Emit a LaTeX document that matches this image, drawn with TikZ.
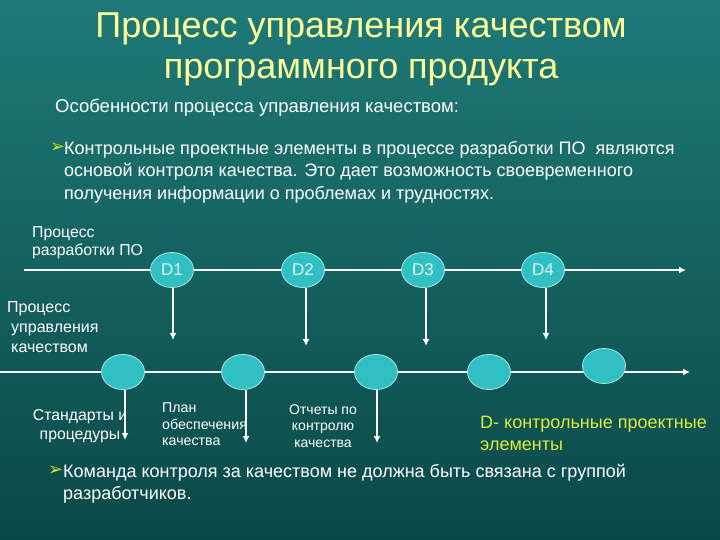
\documentclass[tikz,border=0pt]{standalone}
\usepackage{fontspec}
\setmainfont{Liberation Sans}
\newfontfamily\symfont{DejaVu Sans}
\usetikzlibrary{shapes.geometric,arrows.meta,backgrounds}
\definecolor{bgtop}{RGB}{30,122,119}
\definecolor{bgbot}{RGB}{10,72,72}
\definecolor{titleyel}{RGB}{255,255,153}
\definecolor{dfill}{RGB}{48,192,196}
\definecolor{dyel}{RGB}{225,235,60}
\definecolor{bulletgr}{RGB}{200,225,50}
\tikzset{
	elem/.style={ellipse,draw=white!60!dfill,line width=0.8pt,fill=dfill,minimum width=43pt,minimum height=35pt,inner sep=0pt,text=white!85!dfill,font=\fontsize{17}{17}\selectfont},
	flow/.style={white,line width=2pt},
	flowarr/.style={flow,-{Latex[length=7pt,width=7pt]}},
	lbl/.style={text=white,anchor=north west,inner sep=0pt,align=left},
	bulletmark/.style={text=bulletgr,anchor=north west,inner sep=0pt,font=\symfont\fontsize{18}{18}\selectfont},
}
\begin{document}
\begin{tikzpicture}[x=1pt,y=-1pt]
	\useasboundingbox (0,0) rectangle (720,540);
	% heading
	\node[text=titleyel,anchor=north,inner sep=0pt,align=center,font=\fontsize{36}{41}\selectfont] (title) at (361,13) {Процесс управления качеством\\программного продукта};
	\node[lbl,font=\fontsize{18.5}{18.5}\selectfont] (sub) at (55,99) {Особенности процесса управления качеством:};
	\node[bulletmark] (b1) at (50,143) {➢};
	\node[lbl,font=\fontsize{18}{22.5}\selectfont] (p1) at (64,141) {Контрольные проектные элементы в процессе разработки ПО~ являются\\основой контроля качества. Это дает возможность своевременного\\получения информации о проблемах и трудностях.};
	% development line
	\node[lbl,font=\fontsize{15.8}{18}\selectfont] (dev) at (32,226) {Процесс\\разработки ПО};
	\coordinate (devL) at (24,270);
	\coordinate (devR) at (686,270);
	\node[elem] (d1) at (172,270) {D1};
	\node[elem] (d2) at (303,270) {D2};
	\node[elem] (d3) at (423,270) {D3};
	\node[elem] (d4) at (543,270) {D4};
	% quality line
	\node[lbl,font=\fontsize{16}{20}\selectfont] (qa) at (7,301) {Процесс\\\hspace*{4pt}управления\\\hspace*{4pt}качеством};
	\coordinate (qaL) at (0,372);
	\coordinate (qaR) at (690,372);
	\node[elem] (q1) at (123,372) {};
	\node[elem] (q2) at (243,372) {};
	\node[elem] (q3) at (376,372) {};
	\node[elem] (q4) at (489,372) {};
	\node[elem] (q5) at (604,366) {};
	\begin{scope}[on background layer]
		\shade[top color=bgtop,bottom color=bgbot] (0,0) rectangle (720,540);
		\draw[flow] (devL) -- (d1) (d1) -- (d2) (d2) -- (d3) (d3) -- (d4);
		\draw[flowarr] (d4) -- (devR);
		\draw[flow] (qaL) -- (q1) (q1) -- (q2) (q2) -- (q3) (q3) -- (q4);
		\draw[flowarr] (q4) -- (qaR);
	\end{scope}
	% control elements go down
	\coordinate (t1) at (173,340);
	\coordinate (t2) at (306,346);
	\coordinate (t3) at (426,346);
	\coordinate (t4) at (546,340);
	\draw[flowarr] (d1.south -| t1) -- (t1);
	\draw[flowarr] (d2.south -| t2) -- (t2);
	\draw[flowarr] (d3.south -| t3) -- (t3);
	\draw[flowarr] (d4.south -| t4) -- (t4);
	% documents
	\coordinate (s1) at (125,440);
	\coordinate (s2) at (246,443);
	\coordinate (s3) at (377,443);
	\draw[flowarr] (q1.south -| s1) -- (s1);
	\draw[flowarr] (q2.south -| s2) -- (s2);
	\draw[flowarr] (q3.south -| s3) -- (s3);
	\node[text=white,inner sep=0pt,align=center,font=\fontsize{15.8}{18.5}\selectfont] (std) at (80,426) {Стандарты и\\процедуры};
	\node[lbl,font=\fontsize{14.2}{16.5}\selectfont] (plan) at (162,403) {План\\обеспечения\\качества};
	\node[text=white,inner sep=0pt,align=center,font=\fontsize{14}{16.5}\selectfont] (rep) at (323,426) {Отчеты по\\контролю\\качества};
	\node[lbl,text=dyel,font=\fontsize{18}{22}\selectfont] (legend) at (480,416) {D- контрольные проектные\\элементы};
	\node[bulletmark] (b2) at (48,466) {➢};
	\node[lbl,font=\fontsize{18}{22}\selectfont] (p2) at (63,464) {Команда контроля за качеством не должна быть связана с группой\\разработчиков.};
\end{tikzpicture}
\end{document}
